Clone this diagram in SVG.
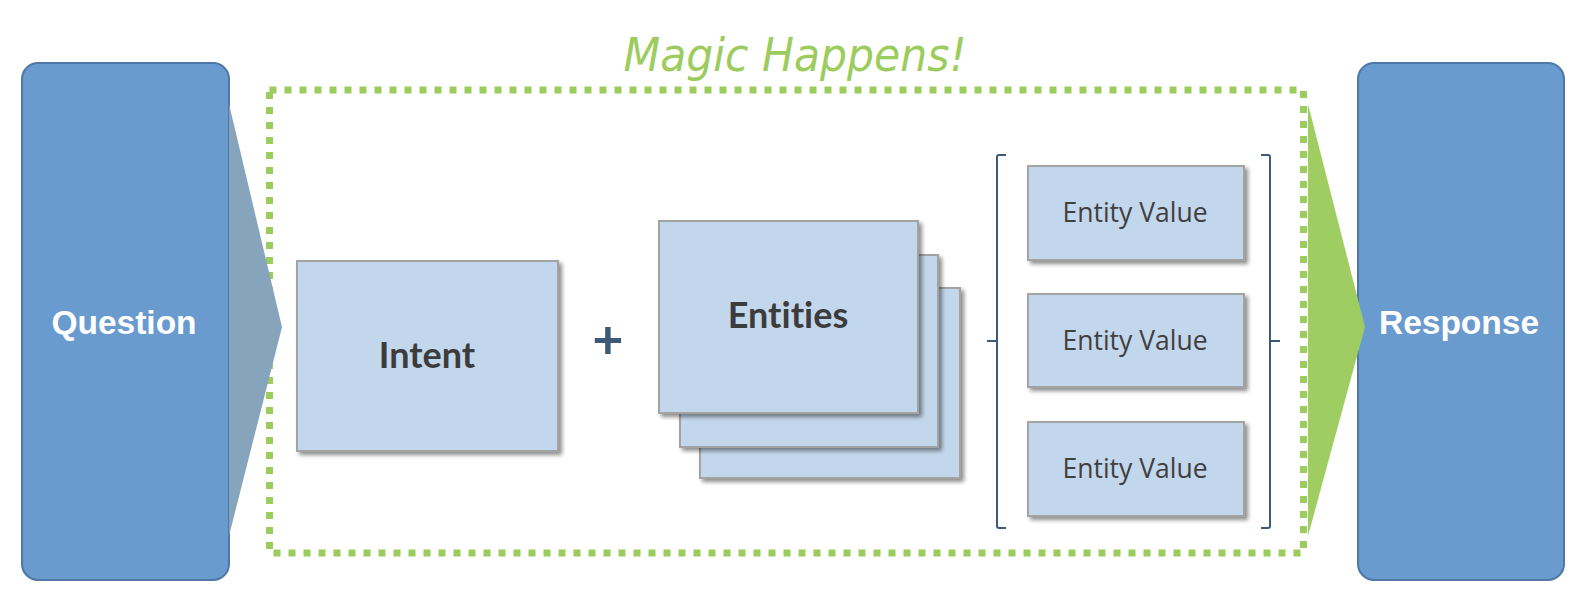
<svg xmlns="http://www.w3.org/2000/svg" width="1588" height="614" viewBox="0 0 1588 614">
<defs>
<filter id="sh" x="-10%" y="-10%" width="130%" height="130%">
<feGaussianBlur in="SourceAlpha" stdDeviation="2"/>
<feOffset dx="3" dy="3" result="b"/>
<feComponentTransfer><feFuncA type="linear" slope="0.45"/></feComponentTransfer>
<feMerge><feMergeNode/><feMergeNode in="SourceGraphic"/></feMerge>
</filter>
<style>
.big{fill:#6a9bcf;stroke:#4f78a6;stroke-width:2}
.bigt{font-family:"Liberation Sans",Arial,sans-serif;font-weight:bold;font-size:33.5px;fill:#ffffff;text-anchor:middle}
.lb{fill:#c3d7ec;stroke:#a3a3a3;stroke-width:2;filter:url(#sh)}
.bt{font-family:Lato,"Open Sans",sans-serif;font-weight:bold;font-size:36px;fill:#3c3c3c;text-anchor:middle;font-variant-ligatures:none}
.ev{font-family:"Open Sans",Lato,sans-serif;font-size:26.5px;fill:#404040;text-anchor:middle}
.br{fill:none;stroke:#3d5a78;stroke-width:2}
</style>
</defs>
<g id="magic-frame">
<rect x="269.5" y="90" width="1034" height="463" fill="none" stroke="#9ccc5e" stroke-width="7" stroke-dasharray="7 8"/>
<text x="795" y="71" font-family="'Comic Sans MS','DejaVu Sans',sans-serif" font-style="italic" font-size="47" fill="#9ccc5e" text-anchor="middle" textLength="343" lengthAdjust="spacingAndGlyphs">Magic Happens!</text>
</g>
<g id="question">
<rect class="big" x="22" y="63" width="207" height="517" rx="16"/>
<text class="bigt" x="124" y="334">Question</text>
</g>
<g id="response">
<rect class="big" x="1358" y="63" width="206" height="517" rx="16"/>
<text class="bigt" x="1459" y="334">Response</text>
</g>
<g id="connectors">
<polygon points="229,104 282,327 229,536" fill="#87a4bd"/>
<polygon points="1308,104 1365,327 1308,536" fill="#a0cd62"/>
</g>
<g id="intent">
<rect class="lb" x="297" y="261" width="261" height="190"/>
<text class="bt" x="427" y="368">Intent</text>
</g>
<g id="plus">
<text x="608" y="359" font-family="Lato,'Open Sans',sans-serif" font-weight="bold" font-size="54" fill="#3d5a78" text-anchor="middle">+</text>
</g>
<g id="entities">
<rect class="lb" x="700" y="288" width="260" height="190"/>
<rect class="lb" x="680" y="255" width="258" height="192"/>
<rect class="lb" x="659" y="221" width="259" height="192"/>
<text class="bt" x="788" y="328">Entities</text>
</g>
<g id="brackets">
<path class="br" d="M1006,155 H999 Q997,155 997,157 V526 Q997,528 999,528 H1006 M997,341 H987"/>
<path class="br" d="M1261,155 H1268 Q1270,155 1270,157 V526 Q1270,528 1268,528 H1261 M1270,341 H1280"/>
</g>
<g id="entity-value-1">
<rect class="lb" x="1028" y="166" width="216" height="94"/>
<text class="ev" x="1135" y="222">Entity Value</text>
</g>
<g id="entity-value-2">
<rect class="lb" x="1028" y="294" width="216" height="93"/>
<text class="ev" x="1135" y="350">Entity Value</text>
</g>
<g id="entity-value-3">
<rect class="lb" x="1028" y="422" width="216" height="94"/>
<text class="ev" x="1135" y="478">Entity Value</text>
</g>
</svg>
